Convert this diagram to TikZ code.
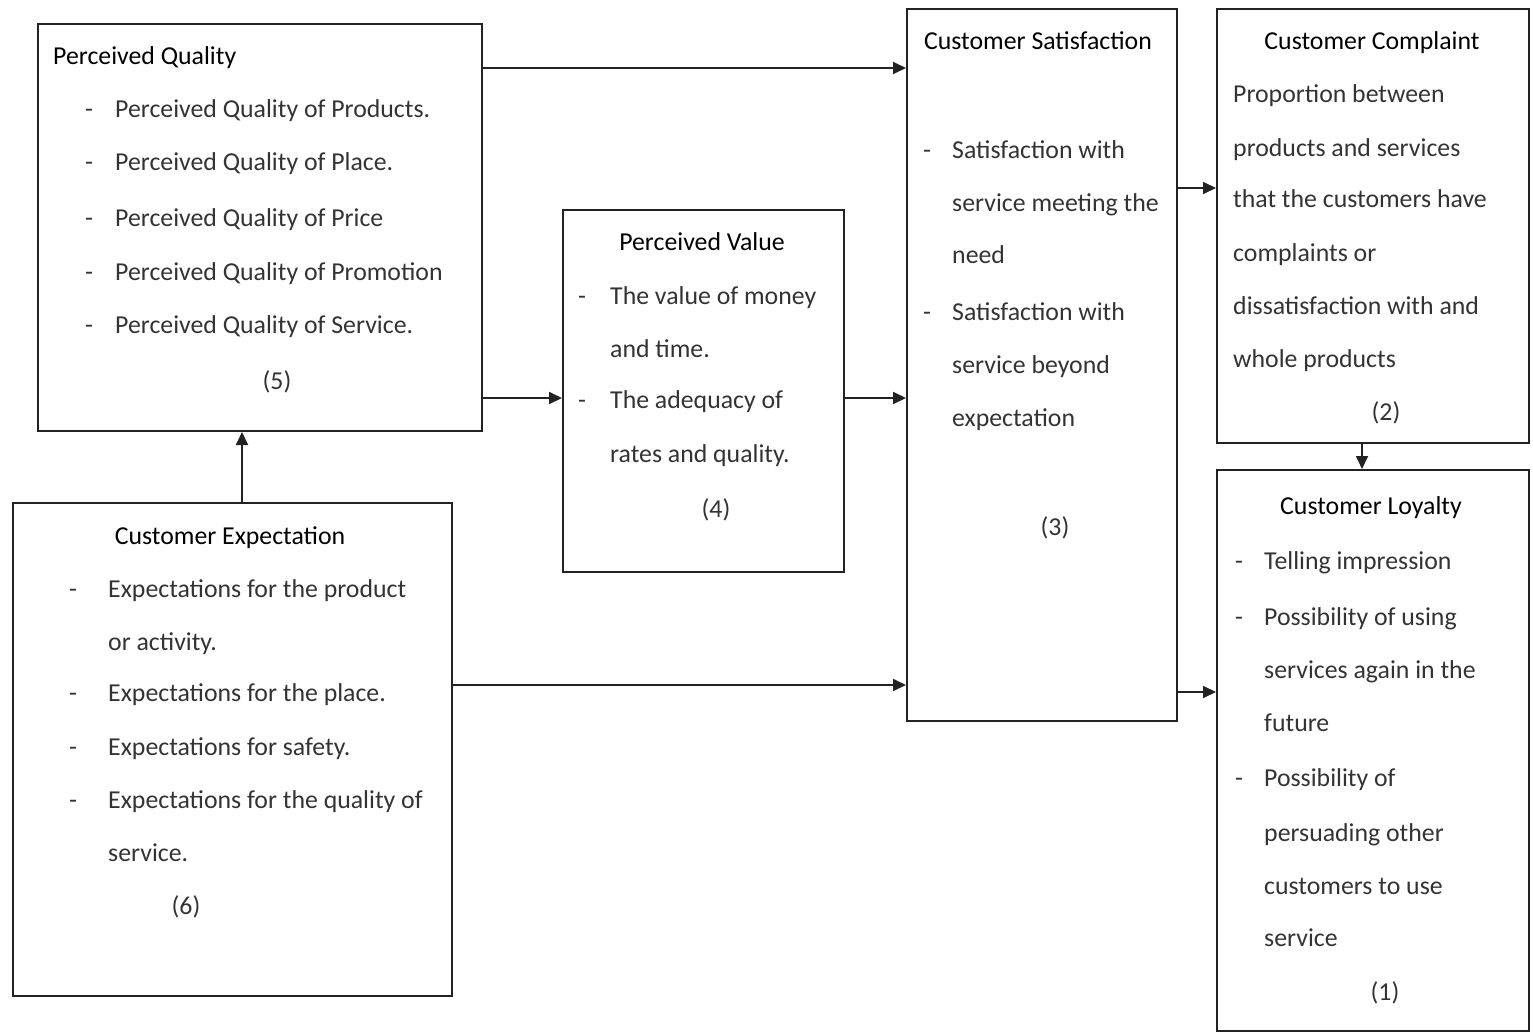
\documentclass[tikz,border=0pt]{standalone}
\usepackage{fontspec}
\setmainfont{Carlito}
\usetikzlibrary{arrows.meta}
\definecolor{ink}{HTML}{222222}
\definecolor{body}{HTML}{333333}
\tikzset{
  every picture/.style={x=1pt, y=-1pt, line join=miter},
  box/.style={draw=ink, line width=2pt, anchor=north west, inner sep=0pt},
  head/.style={anchor=base, inner sep=0pt, text=black, font=\fontsize{25.8}{30}\selectfont},
  item/.style={anchor=base west, inner sep=0pt, text=body, font=\fontsize{25.8}{30}\selectfont},
  hyph/.style={item},
  num/.style={anchor=base, inner sep=0pt, text=body, font=\fontsize{25.8}{30}\selectfont},
  arr/.style={-{Triangle[length=13pt, width=12pt]}, line width=1.8pt, ink},
}

\begin{document}
\begin{tikzpicture}
\useasboundingbox (0,0) rectangle (1533,1033);

% boxes
\node[box, minimum width=444, minimum height=407] (pq) at (37,23) {};
\node[box, minimum width=281, minimum height=362] (pv) at (562,209) {};
\node[box, minimum width=270, minimum height=712] (cs) at (906,8) {};
\node[box, minimum width=312, minimum height=434] (cc) at (1216,8) {};
\node[box, minimum width=312, minimum height=561] (cl) at (1216,469) {};
\node[box, minimum width=439, minimum height=493] (ce) at (12,502) {};

% perceived quality
\node[head, anchor=base west] (pq-h) at (53,64) {Perceived Quality};
\foreach \y/\t [count=\i] in {117/Perceived Quality of Products., 170/Perceived Quality of Place.,
    226/Perceived Quality of Price, 280/Perceived Quality of Promotion, 333/Perceived Quality of Service.}{
  \node[hyph] (pq-d\i) at (85,\y) {-};
  \node[item] (pq-\i) at (115,\y) {\t};
}
\node[num] (pq-n) at (277,389) {(5)};

% perceived value
\node[head] (pv-h) at (702,250) {Perceived Value};
\foreach \y/\t [count=\i] in {304/The value of money, 357/and time., 408/The adequacy of, 462/rates and quality.}{
  \node[item] (pv-\i) at (610,\y) {\t};
}
\foreach \y [count=\i] in {304,408}
  \node[hyph] (pv-d\i) at (578,\y) {-};
\node[num] (pv-n) at (716,517) {(4)};

% customer satisfaction
\node[head] (cs-h) at (1038,50) {Customer Satisfaction};
\foreach \y/\t [count=\i] in {158/Satisfaction with, 211/service meeting the, 263/need,
    320/Satisfaction with, 373/service beyond, 426/expectation}{
  \node[item] (cs-\i) at (952,\y) {\t};
}
\foreach \y [count=\i] in {158,320}
  \node[hyph] (cs-d\i) at (923,\y) {-};
\node[num] (cs-n) at (1055,535) {(3)};

% customer complaint
\node[head] (cc-h) at (1372,50) {Customer Complaint};
\foreach \y/\t [count=\i] in {102/Proportion between, 156/products and services, 207/that the customers have,
    261/complaints or, 314/dissatisfaction with and, 367/whole products}{
  \node[item] (cc-\i) at (1233,\y) {\t};
}
\node[num] (cc-n) at (1386,420) {(2)};

% customer loyalty
\node[head] (cl-h) at (1371,514) {Customer Loyalty};
\foreach \y/\t [count=\i] in {569/Telling impression, 625/Possibility of using, 678/services again in the,
    731/future, 786/Possibility of, 841/persuading other, 894/customers to use, 946/service}{
  \node[item] (cl-\i) at (1264,\y) {\t};
}
\foreach \y [count=\i] in {569,625,786}
  \node[hyph] (cl-d\i) at (1235,\y) {-};
\node[num] (cl-n) at (1385,1000) {(1)};

% customer expectation
\node[head] (ce-h) at (230,544) {Customer Expectation};
\foreach \y/\t [count=\i] in {597/Expectations for the product, 650/or activity., 701/Expectations for the place.,
    755/Expectations for safety., 808/Expectations for the quality of, 861/service.}{
  \node[item] (ce-\i) at (108,\y) {\t};
}
\foreach \y [count=\i] in {597,701,755,808}
  \node[hyph] (ce-d\i) at (69,\y) {-};
\node[num] (ce-n) at (186,914) {(6)};

% arrows
\draw[arr] (pq.east |- 0,68) -- (cs.west |- 0,68);
\draw[arr] (pq.east |- 0,398) -- (pv.west |- 0,398);
\draw[arr] (pv.east |- 0,398) -- (cs.west |- 0,398);
\draw[arr] (242,0 |- ce.north) -- (242,0 |- pq.south);
\draw[arr] (ce.east |- 0,685) -- (cs.west |- 0,685);
\draw[arr] (cs.east |- 0,188) -- (cc.west |- 0,188);
\draw[arr] (cs.east |- 0,692) -- (cl.west |- 0,692);
\draw[arr] (1362,0 |- cc.south) -- (1362,0 |- cl.north);
\end{tikzpicture}
\end{document}
